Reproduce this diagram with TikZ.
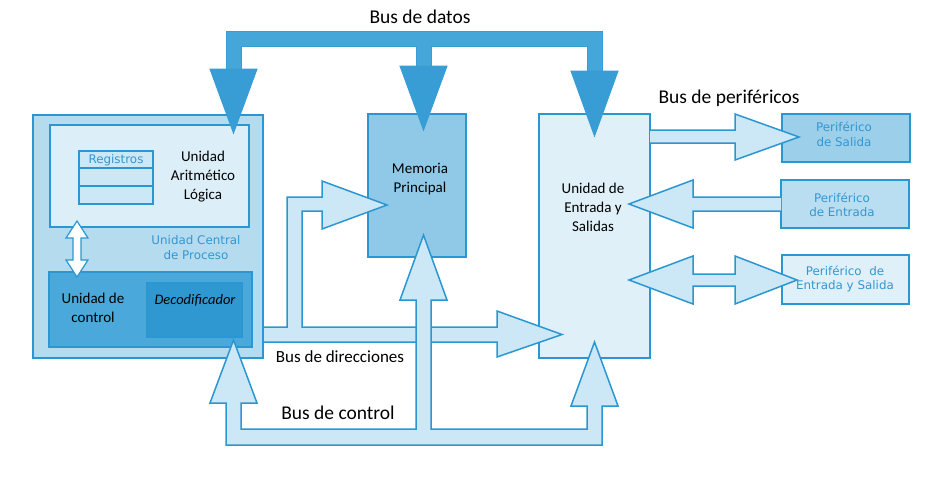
\documentclass[tikz,border=0pt]{standalone}
\usepackage{fontspec}
\setmainfont{Carlito}
\newfontfamily\dejavu{DejaVu Sans}
\usepackage{tikz}
\definecolor{busline}{HTML}{2B97D2}
\definecolor{cpuout}{HTML}{B5DBEF}
\definecolor{alufill}{HTML}{DCEEF8}
\definecolor{ctrlfill}{HTML}{4AA8DA}
\definecolor{decfill}{HTML}{2F98D0}
\definecolor{memfill}{HTML}{8FC9E7}
\definecolor{iofill}{HTML}{E0F0F9}
\definecolor{salfill}{HTML}{9CCFEA}
\definecolor{entfill}{HTML}{B9DEF1}
\definecolor{busfill}{HTML}{CCE7F5}
\definecolor{datafill}{HTML}{45A6DA}
\definecolor{datahead}{HTML}{389DD4}
\definecolor{bluetext}{HTML}{3596D1}

\begin{document}
\begin{tikzpicture}[x=1pt, y=-1pt,
box/.style = {shape=rectangle, draw=busline, line width=2pt, inner sep=0pt},
txt/.style = {align=center, inner sep=0pt, font=\fontsize{15}{19}\selectfont},
bluetxt/.style = {align=center, inner sep=0pt, text=bluetext,
  font=\dejavu\fontsize{11.9}{14.5}\selectfont},
buslabel/.style = {inner sep=0pt, font=\fontsize{19.5}{23}\selectfont},
lightbus/.style = {fill=busfill, draw=busline, line width=1.5pt},
databus/.style = {fill=datafill, draw=datahead, line width=1pt}
]
\useasboundingbox (0,0) rectangle (928,477);

% CPU
\node [box, fill=cpuout, minimum width=230, minimum height=243] (cpu) at (148,236.5) {};
\node [box, fill=alufill, minimum width=199, minimum height=102] (alu) at (149.5,176) {};
\node [box, fill=busfill, minimum width=74, minimum height=17] (reg1) at (116,159.5) {};
\node [box, fill=busfill, minimum width=74, minimum height=18] (reg2) at (116,177) {};
\node [box, fill=busfill, minimum width=74, minimum height=18] (reg3) at (116,195) {};
\node [bluetxt] (regtxt) at (116,160) {Registros};
\node [txt] (alutxt) at (203,177) {Unidad\\Aritmético\\Lógica};
\node [bluetxt] (cputxt) at (196,247.5) {Unidad Central\\de Proceso};
\node [box, fill=ctrlfill, minimum width=203, minimum height=75] (ctrl) at (150.5,309.5) {};
\node [box, fill=decfill, minimum width=95, minimum height=54] (dec) at (194.5,310) {};
\node [txt] (ctrltxt) at (93,307.5) {Unidad de\\control};
\node [txt, font=\fontsize{14.5}{18}\selectfont\itshape] (dectxt) at (195,300) {Decodificador};
\draw [fill=white, draw=busline, line width=1.2pt]
  (73,238) -- (66,238) -- (77,221) -- (88,238) -- (81,238) -- (81,260)
  -- (88,260) -- (77,277) -- (66,260) -- (73,260) -- cycle;

% memoria, E/S, perifericos
\node [box, fill=memfill, minimum width=98, minimum height=143] (mem) at (417,185.5) {};
\node [txt] (memtxt) at (420,179) {Memoria\\Principal};
\node [box, fill=iofill, minimum width=111, minimum height=244] (io) at (594.5,236) {};
\node [txt] (iotxt) at (593,207.5) {Unidad de\\Entrada y\\Salidas};
\node [box, fill=salfill, minimum width=128, minimum height=48] (psal) at (846,138) {};
\node [bluetxt] (psaltxt) at (844,134.5) {Periférico\\de Salida};
\node [box, fill=entfill, minimum width=128, minimum height=48] (pent) at (845,204) {};
\node [bluetxt] (penttxt) at (842,205) {Periférico\\de Entrada};
\node [box, fill=iofill, minimum width=127, minimum height=49] (pes) at (845.5,279.5) {};
\node [bluetxt] (pestxt) at (845,279) {Periférico\ \ de\\Entrada y Salida};

% bus de datos
\draw [databus] (226,31) -- (602,31) -- (602,72) -- (587,72) -- (587,46) -- (431,46)
  -- (431,67) -- (416,67) -- (416,46) -- (241,46) -- (241,70) -- (226,70) -- cycle;
\draw [databus, fill=datahead] (210,69) -- (257,69) -- (233.5,133) -- cycle;
\draw [databus, fill=datahead] (400,66) -- (447,66) -- (423.5,130) -- cycle;
\draw [databus, fill=datahead] (571,71) -- (618,71) -- (594.5,136) -- cycle;

% bus de direcciones
\draw [lightbus] (263,327) -- (287,327) -- (287,197) -- (322,197) -- (322,181)
  -- (387,205) -- (322,229) -- (322,211) -- (302,211) -- (302,327) -- (497,327)
  -- (497,311) -- (562,334.5) -- (497,357) -- (497,342) -- (263,342) -- cycle;

% bus de control
\draw [lightbus] (226,445) -- (602,445) -- (602,406) -- (618,406) -- (594.5,342)
  -- (571,406) -- (587,406) -- (587,429) -- (431,429) -- (431,300) -- (447,300)
  -- (423.5,235) -- (400,300) -- (416,300) -- (416,429) -- (241,429) -- (241,403)
  -- (257,403) -- (233.5,340) -- (210,403) -- (226,403) -- cycle;

% bus de perifericos
\draw [lightbus] (650,130) -- (735,130) -- (735,114) -- (799,137) -- (735,160)
  -- (735,143) -- (650,143);
\draw [lightbus] (781,197) -- (693,197) -- (693,180) -- (629,204) -- (693,228)
  -- (693,211) -- (781,211);
\draw [lightbus] (693,274) -- (735,274) -- (735,256) -- (797,280) -- (735,304)
  -- (735,286) -- (693,286) -- (693,304) -- (629,280) -- (693,256) -- cycle;

% rotulos
\node [buslabel] (datos) at (420,17) {Bus de datos};
\node [buslabel] (perif) at (729,98) {Bus de periféricos};
\node [buslabel, font=\fontsize{17}{20}\selectfont] (direc) at (340,357) {Bus de direcciones};
\node [buslabel] (control) at (338,413) {Bus de control};

\end{tikzpicture}
\end{document}
